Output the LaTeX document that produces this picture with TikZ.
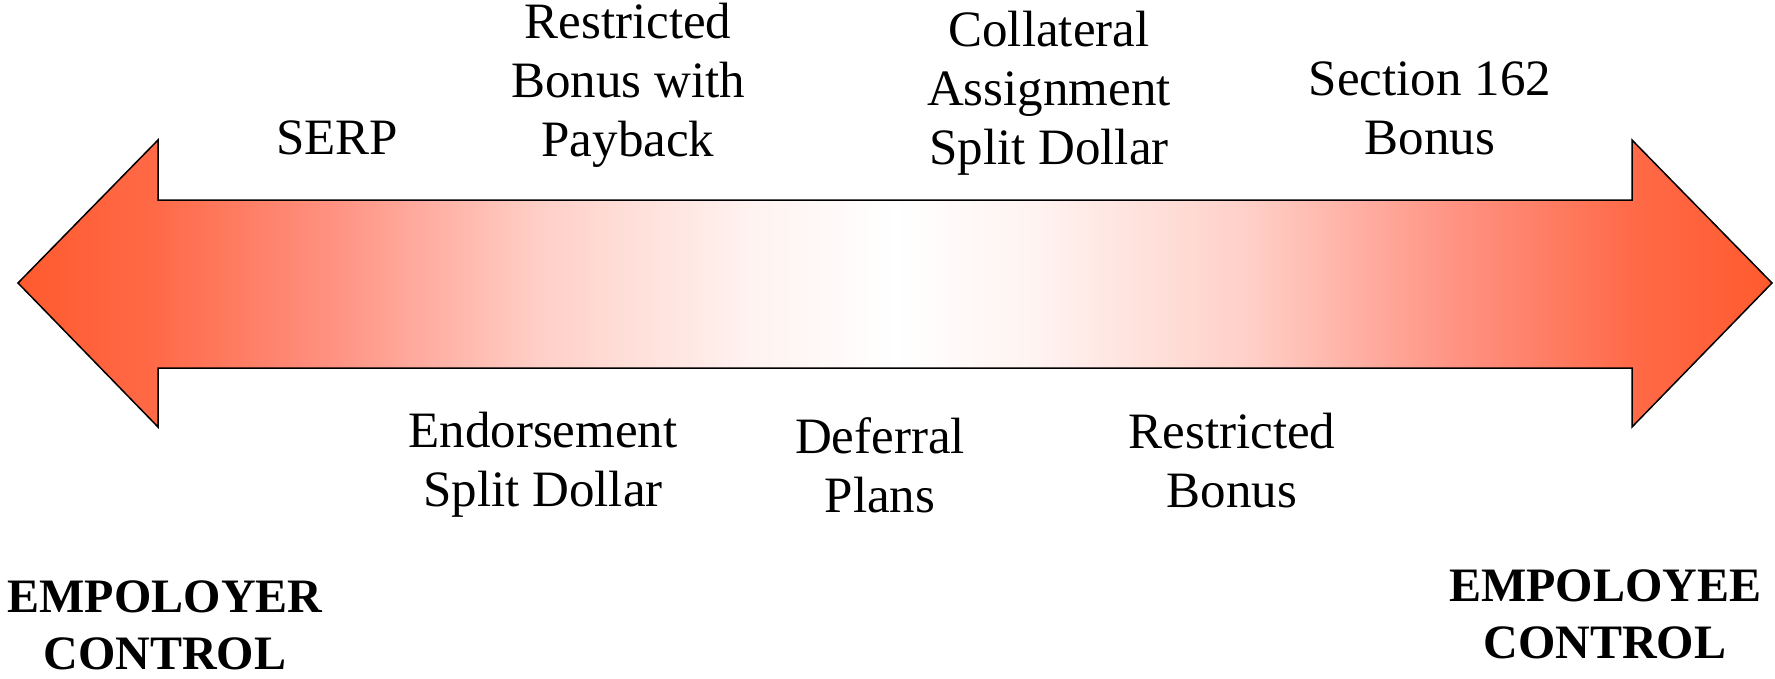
\documentclass[tikz,border=0pt]{standalone}
\usepackage{fontspec}
\setmainfont{Liberation Serif}
\definecolor{arrowred}{HTML}{FF5A2E}
\definecolor{arrowA}{HTML}{FF6A48}
\definecolor{arrowB}{HTML}{FF9282}
\definecolor{arrowC}{HTML}{FFD0C8}
\definecolor{arrowD}{HTML}{FFF3F1}
\pgfdeclarehorizontalshading{arrowshade}{100bp}{
  color(0bp)=(arrowred); color(25bp)=(arrowred); color(29bp)=(arrowA);
  color(34bp)=(arrowB); color(40bp)=(arrowC); color(46bp)=(arrowD);
  color(50bp)=(white); color(54bp)=(arrowD); color(60bp)=(arrowC);
  color(66bp)=(arrowB); color(71bp)=(arrowA); color(75bp)=(arrowred);
  color(100bp)=(arrowred)}
\tikzset{
  lbl/.style={align=center, font=\fontsize{51}{59}\selectfont, inner sep=0pt},
  ctl/.style={align=center, font=\fontsize{48}{57}\selectfont\bfseries, inner sep=0pt},
  bigarrow/.style={draw=black, line width=1.5pt, shading=arrowshade, line join=miter}
}
\begin{document}
\begin{tikzpicture}[x=1pt,y=-1pt]
\useasboundingbox (0,0) rectangle (1775,678);
\shade[bigarrow] (18,283) -- (158,140) -- (158,200) -- (1632,200) -- (1632,140)
  -- (1772,283) -- (1632,427) -- (1632,368) -- (158,368) -- (158,427) -- cycle;
\node[lbl] (serp) at (337,138) {SERP};
\node[lbl] (rbp) at (628,85) {Restricted\\Bonus with\\Payback};
\node[lbl] (casd) at (1049,93) {Collateral\\Assignment\\Split Dollar};
\node[lbl] (s162) at (1430,108) {Section 162\\Bonus};
\node[lbl] (esd) at (543,465) {Endorsement\\Split Dollar};
\node[lbl] (dp) at (880,465) {Deferral\\Plans};
\node[lbl] (rb) at (1232,461) {Restricted\\Bonus};
\node[ctl] (er) at (165,625) {EMPOLOYER\\CONTROL};
\node[ctl] (ee) at (1605,614) {EMPOLOYEE\\CONTROL};
\end{tikzpicture}
\end{document}
